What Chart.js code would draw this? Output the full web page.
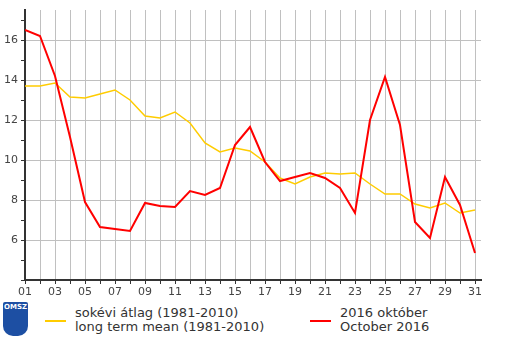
<!DOCTYPE html>
<html>
<head>
<meta charset="utf-8">
<script src="https://cdn.jsdelivr.net/npm/chart.js@4.4.1/dist/chart.umd.min.js"></script>
<style>
  html, body { margin: 0; padding: 0; background: #fff; }
  #wrap { position: relative; width: 505px; height: 340px; overflow: hidden; font-family: "DejaVu Sans", sans-serif; }
  #c { position: absolute; left: 0; top: 0; }
  .leg { position: absolute; font-size: 13px; line-height: 14px; color: #333; }
  .sw { position: absolute; height: 2px; width: 21px; }
  #logo { position: absolute; left: 3px; top: 302px; width: 25px; height: 34px; background: #1d4fa3;
          border-radius: 2px 2px 10px 10px; color: #fff; font: bold 7px "DejaVu Sans", sans-serif; text-align: center; line-height: 10px; }
</style>
</head>
<body>
<div id="wrap">
  <canvas id="c" width="505" height="300"></canvas>
  <div id="logo">OMSZ</div>
  <div class="sw" style="left:45px; top:320px; background:#ffcc00;"></div>
  <div class="leg" style="left:75px; top:306px;">sokévi átlag (1981-2010)<br>long term mean (1981-2010)</div>
  <div class="sw" style="left:310px; top:320px; background:#ff0000;"></div>
  <div class="leg" style="left:340px; top:306px;">2016 október<br>October 2016</div>
</div>
<script>
const days = [1,2,3,4,5,6,7,8,9,10,11,12,13,14,15,16,17,18,19,20,21,22,23,24,25,26,27,28,29,30,31];
const dayLabels = ["01","02","03","04","05","06","07","08","09","10","11","12","13","14","15","16","17","18","19","20","21","22","23","24","25","26","27","28","29","30","31"];
const longTermMean = [13.7,13.7,13.85,13.15,13.1,13.3,13.5,13.0,12.2,12.1,12.4,11.85,10.85,10.4,10.6,10.45,9.9,9.1,8.8,9.15,9.35,9.3,9.35,8.8,8.3,8.3,7.8,7.6,7.85,7.35,7.5];
const october2016 = [16.5,16.2,14.2,11.15,7.9,6.65,6.55,6.45,7.85,7.7,7.65,8.45,8.25,8.6,10.75,11.65,9.9,8.95,9.15,9.35,9.1,8.6,7.35,12.0,14.15,11.75,6.9,6.1,9.15,7.75,5.35];
const yTickValues = [4,5,6,7,8,9,10,11,12,13,14,15,16,17];
const yLabelValues = [6,8,10,12,14,16];

const mk = arr => days.map((d, i) => ({ x: d, y: arr[i] }));

new Chart(document.getElementById('c'), {
  type: 'line',
  data: {
    datasets: [
      { label: 'long term mean', data: mk(longTermMean), borderColor: '#ffcc00', borderWidth: 1.5, pointRadius: 0, tension: 0, order: 2 },
      { label: 'October 2016', data: mk(october2016), borderColor: '#ff0000', borderWidth: 2, pointRadius: 0, tension: 0, order: 1 }
    ]
  },
  options: {
    responsive: false,
    animation: false,
    events: [],
    layout: { padding: { top: 10, right: 24, left: 0, bottom: 0 } },
    plugins: { legend: { display: false }, tooltip: { enabled: false } },
    scales: {
      x: {
        type: 'linear', min: 1, max: 31.4,
        afterBuildTicks: s => { s.ticks = days.map(v => ({ value: v })); },
        afterFit: s => { s.height = 20; },
        ticks: {
          autoSkip: false, maxRotation: 0, padding: 2, color: '#444',
          font: { family: 'DejaVu Sans', size: 11 },
          callback: (v) => (v % 2 === 1 ? dayLabels[v - 1] : '')
        },
        grid: {
          color: c => (c.tick && c.tick.value === 1 ? 'rgba(0,0,0,0)' : '#c0c0c0'),
          tickColor: '#333', tickLength: 4, lineWidth: 1
        },
        border: { color: '#333', width: 2 }
      },
      y: {
        type: 'linear', min: 4, max: 17.5,
        afterBuildTicks: s => { s.ticks = yTickValues.map(v => ({ value: v })); },
        afterFit: s => { s.width = 25; },
        ticks: {
          autoSkip: false, padding: 3, color: '#444',
          font: { family: 'DejaVu Sans', size: 11 },
          callback: (v) => (yLabelValues.includes(v) ? String(v) : '')
        },
        grid: {
          color: c => (c.tick && yLabelValues.includes(c.tick.value) ? '#c0c0c0' : 'rgba(0,0,0,0)'),
          tickColor: '#333', tickLength: 4, lineWidth: 1
        },
        border: { color: '#333', width: 2 }
      }
    }
  }
});
</script>
</body>
</html>
